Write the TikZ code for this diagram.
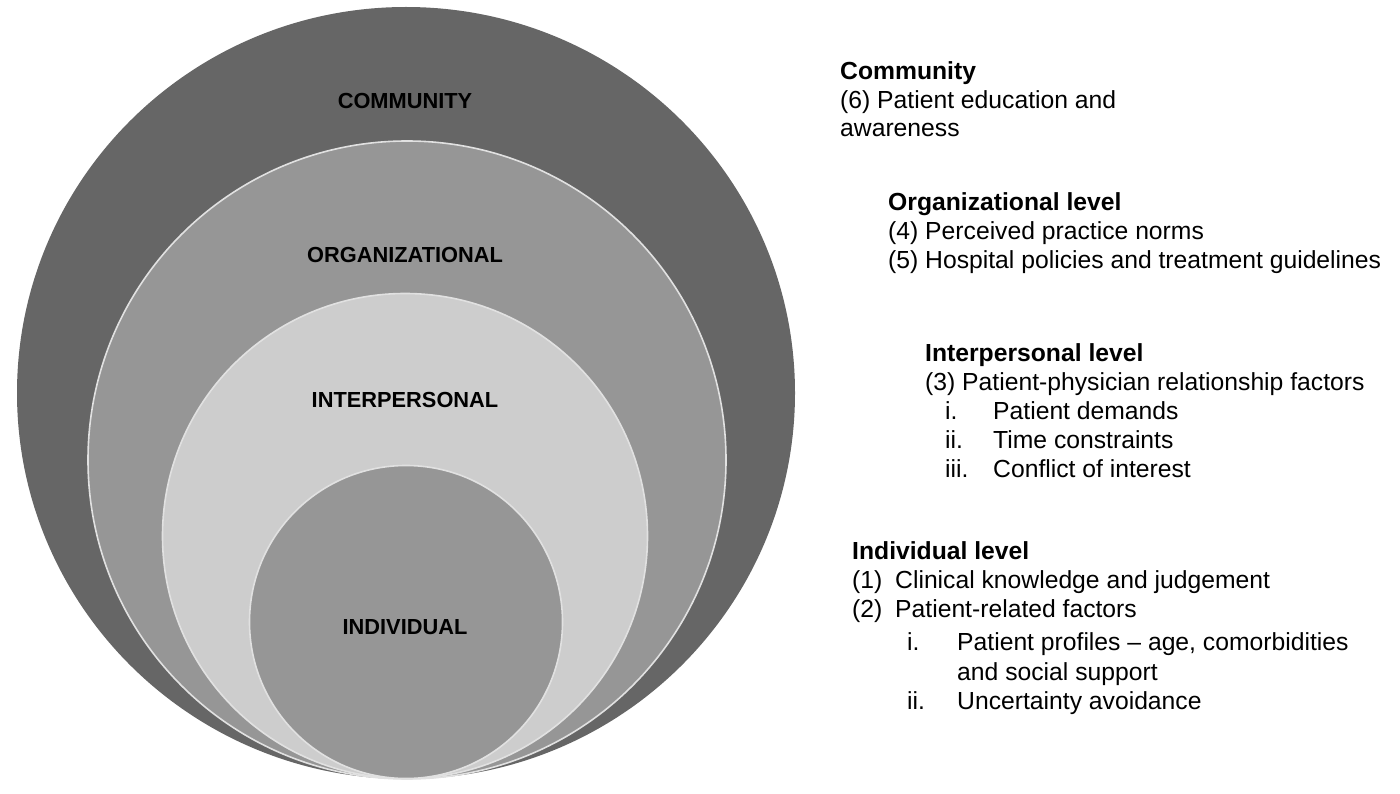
\documentclass[tikz,border=0pt]{standalone}
\usepackage{fontspec}
\usetikzlibrary{shapes.geometric}
\setmainfont{Liberation Sans}
\definecolor{cComm}{RGB}{102,102,102}
\definecolor{cOrg}{RGB}{150,150,150}
\definecolor{cInter}{RGB}{205,205,205}
\definecolor{cIndiv}{RGB}{150,150,150}
\definecolor{cEdge}{RGB}{225,225,225}
\begin{document}
\begin{tikzpicture}[x=1pt,y=-1pt,
  ring/.style={circle, inner sep=0pt, outer sep=0pt, draw=cEdge, line width=1.6pt},
  lab/.style={font=\fontsize{21.8}{24}\selectfont\bfseries, text=black, inner sep=0pt},
  txt/.style={anchor=base west, inner sep=0pt, font=\fontsize{24.7}{29}\selectfont, text=black},
  hd/.style={txt, font=\fontsize{24.7}{29}\selectfont\bfseries}]
\useasboundingbox (0,0) rectangle (1400,794);
% nested circles, all tangent at the bottom
\node[ellipse, inner sep=0pt, outer sep=0pt, fill=cComm, minimum width=778pt, minimum height=772pt] (comm) at (406,393) {};
\node[ring, fill=cOrg, minimum size=638pt] (org) at (407,460) {};
\node[ring, fill=cInter, minimum size=485pt] (inter) at (405,536) {};
\node[ring, fill=cIndiv, minimum size=313pt] (indiv) at (406,622) {};
% circle labels
\node[lab] (lcomm) at (405,101) {COMMUNITY};
\node[lab] (lorg) at (405,255) {ORGANIZATIONAL};
\node[lab] (linter) at (405,400) {INTERPERSONAL};
\node[lab] (lindiv) at (405,627) {INDIVIDUAL};
% Community
\node[hd] (t1) at (840,80) {Community};
\node[txt] (t2) at (840,109) {(6) Patient education and};
\node[txt] (t3) at (840,137) {awareness};
% Organizational
\node[hd] (o1) at (888,211) {Organizational level};
\node[txt] (o2) at (888,240) {(4) Perceived practice norms};
\node[txt] (o3) at (888,269) {(5) Hospital policies and treatment guidelines};
% Interpersonal
\node[hd] (p1) at (925,361) {Interpersonal level};
\node[txt] (p2) at (925,390) {(3) Patient-physician relationship factors};
\node[txt] (p3n) at (945,419) {i.};
\node[txt] (p3) at (993,419) {Patient demands};
\node[txt] (p4n) at (945,448) {ii.};
\node[txt] (p4) at (993,448) {Time constraints};
\node[txt] (p5n) at (945,477) {iii.};
\node[txt] (p5) at (993,477) {Conflict of interest};
% Individual
\node[hd] (d1) at (852,559) {Individual level};
\node[txt] (d2n) at (852,588) {(1)};
\node[txt] (d2) at (895,588) {Clinical knowledge and judgement};
\node[txt] (d3n) at (852,617) {(2)};
\node[txt] (d3) at (895,617) {Patient-related factors};
\node[txt] (d4n) at (907,650) {i.};
\node[txt] (d4) at (957,650) {Patient profiles -- age, comorbidities};
\node[txt] (d5) at (957,680) {and social support};
\node[txt] (d6n) at (907,709) {ii.};
\node[txt] (d6) at (957,709) {Uncertainty avoidance};
\end{tikzpicture}
\end{document}
